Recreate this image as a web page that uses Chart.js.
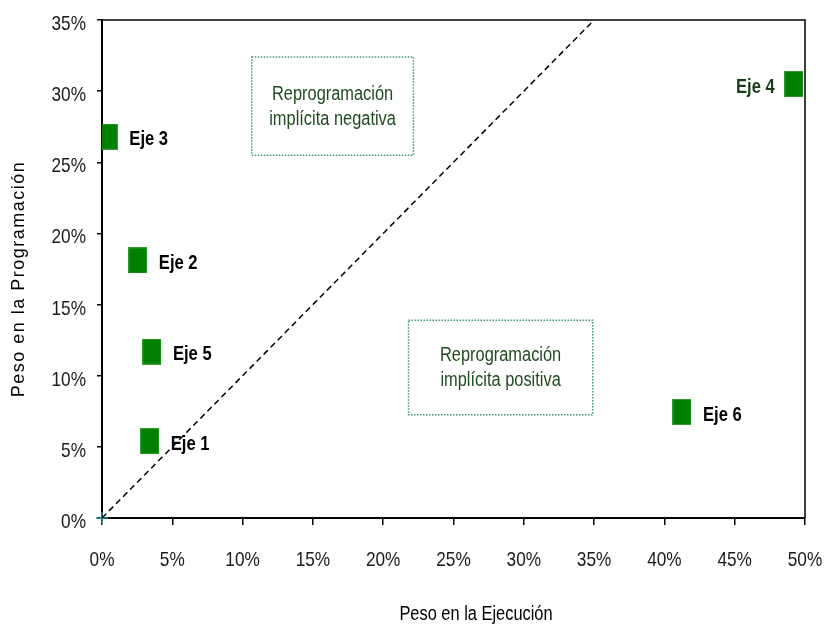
<!DOCTYPE html>
<html>
<head>
<meta charset="utf-8">
<script src="https://cdn.jsdelivr.net/npm/chart.js@4"></script>
<style>
  html, body { margin: 0; padding: 0; background: #fff; }
  canvas { display: block; }
</style>
</head>
<body>
<canvas id="chart" width="826" height="626"></canvas>
<script>
// Data
const ejeLabels = ['Eje 1', 'Eje 2', 'Eje 3', 'Eje 4', 'Eje 5', 'Eje 6'];
const ejecucion = [3.4, 2.55, 0.45, 49.2, 3.55, 41.25];     // x, %
const programacion = [5.4, 18.1, 26.8, 30.5, 11.7, 7.45];   // y, %
const xTicks = [0, 5, 10, 15, 20, 25, 30, 35, 40, 45, 50];
const yTicks = [0, 5, 10, 15, 20, 25, 30, 35];
const diagonal = [0, 35];
// annotation boxes in data units: [x0, x1, y0, y1]
const boxNegativa = [10.65, 22.15, 25.5, 32.4];
const boxPositiva = [21.8, 34.9, 7.25, 13.9];
const textNegativa = ['Reprogramación', 'implícita negativa'];
const textPositiva = ['Reprogramación', 'implícita positiva'];

const FONT = "'Liberation Sans', Arial, sans-serif";
const SQUEEZE = 0.82; // no Arial Narrow here, so squeeze Liberation Sans

// draws text horizontally squeezed, like Arial Narrow
function narrow(ctx, text, x, y, align, k) {
  ctx.save();
  ctx.translate(x, y);
  ctx.scale(k || SQUEEZE, 1);
  ctx.textAlign = align;
  ctx.fillText(text, 0, 0);
  ctx.restore();
}

// rectangular marker (taller than wide)
const marker = document.createElement('canvas');
marker.width = 19;
marker.height = 26;
const mctx = marker.getContext('2d');
mctx.fillStyle = '#2f9a2f';
mctx.fillRect(0, 0, 19, 26);
mctx.fillStyle = '#008000';
mctx.fillRect(1, 1, 17, 24);

const points = ejecucion.map((x, i) => ({ x: x, y: programacion[i] }));

const extras = {
  id: 'extras',
  afterDatasetsDraw(chart) {
    const { ctx, chartArea: a, scales: { x, y } } = chart;
    ctx.save();

    // frame top + right
    ctx.strokeStyle = '#000';
    ctx.lineWidth = 1.5;
    ctx.beginPath();
    ctx.moveTo(a.left, a.top);
    ctx.lineTo(a.right, a.top);
    ctx.lineTo(a.right, a.bottom);
    ctx.stroke();

    // tick labels
    ctx.fillStyle = '#1a1a1a';
    ctx.font = '21px ' + FONT;
    ctx.textBaseline = 'alphabetic';
    xTicks.forEach(v => narrow(ctx, v + '%', x.getPixelForValue(v), 566, 'center'));
    yTicks.forEach(v => narrow(ctx, v + '%', 86, y.getPixelForValue(v) + 10, 'right'));

    // dotted boxes with text
    [[boxNegativa, textNegativa], [boxPositiva, textPositiva]].forEach(([b, lines]) => {
      const x0 = x.getPixelForValue(b[0]), x1 = x.getPixelForValue(b[1]);
      const y0 = y.getPixelForValue(b[3]), y1 = y.getPixelForValue(b[2]);
      ctx.strokeStyle = '#3c9c6a';
      ctx.lineWidth = 1.5;
      ctx.setLineDash([1.5, 1.5]);
      ctx.strokeRect(x0, y0, x1 - x0, y1 - y0);
      ctx.setLineDash([]);
      ctx.fillStyle = '#1f4a1f';
      ctx.font = '20px ' + FONT;
      ctx.textBaseline = 'middle';
      const cx = (x0 + x1) / 2, cy = (y0 + y1) / 2;
      narrow(ctx, lines[0], cx, cy - 12, 'center');
      narrow(ctx, lines[1], cx, cy + 13, 'center');
    });

    // point labels
    const meta = chart.getDatasetMeta(0);
    ctx.font = 'bold 21px ' + FONT;
    ctx.textBaseline = 'middle';
    meta.data.forEach((pt, i) => {
      const rightEdge = ejecucion[i] > 45;
      ctx.fillStyle = rightEdge ? '#163d16' : '#000';
      narrow(ctx, ejeLabels[i], pt.x + (rightEdge ? -19 : 21), pt.y + 3, rightEdge ? 'right' : 'left', 0.79);
    });

    // axis titles
    ctx.fillStyle = '#000';
    ctx.font = '20px ' + FONT;
    narrow(ctx, 'Peso en la Ejecución', 476, 614, 'center');

    ctx.translate(19, 279);
    ctx.rotate(-Math.PI / 2);
    ctx.font = '18px ' + FONT;
    ctx.textAlign = 'center';
    ctx.letterSpacing = '1.5px';
    ctx.fillText('Peso en la Programación', 0, 0);
    ctx.restore();
  }
};

new Chart(document.getElementById('chart'), {
  type: 'scatter',
  data: {
    datasets: [
      {
        data: points,
        pointStyle: marker,
        pointRadius: 10,
        pointHoverRadius: 10
      },
      {
        type: 'line',
        data: diagonal.map(v => ({ x: v, y: v })),
        borderColor: '#000',
        borderWidth: 1.5,
        borderDash: [6, 4],
        pointRadius: 0,
        fill: false
      },
      {
        data: [{ x: 0, y: 0 }],
        pointStyle: 'cross',
        pointRadius: 6,
        borderColor: '#1a8a8a',
        borderWidth: 1.5,
        clip: false
      }
    ]
  },
  options: {
    responsive: false,
    animation: false,
    events: [],
    layout: { padding: { top: 20, right: 21, left: 0, bottom: 0 } },
    plugins: { legend: { display: false }, tooltip: { enabled: false } },
    scales: {
      x: {
        type: 'linear',
        min: xTicks[0],
        max: xTicks[xTicks.length - 1],
        afterBuildTicks: s => { s.ticks = xTicks.map(v => ({ value: v })); },
        afterFit: s => { s.height = 108; s.paddingLeft = 0; s.paddingRight = 0; },
        border: { display: true, color: '#000', width: 2 },
        grid: { display: true, drawOnChartArea: false, drawTicks: true, tickLength: 7, color: '#000', lineWidth: 1.5 },
        ticks: { display: false }
      },
      y: {
        type: 'linear',
        min: yTicks[0],
        max: yTicks[yTicks.length - 1],
        afterBuildTicks: s => { s.ticks = yTicks.map(v => ({ value: v })); },
        afterFit: s => { s.width = 102; s.paddingTop = 0; s.paddingBottom = 0; },
        border: { display: true, color: '#000', width: 2 },
        grid: { display: true, drawOnChartArea: false, drawTicks: true, tickLength: 5, color: '#000', lineWidth: 1.5 },
        ticks: { display: false }
      }
    }
  },
  plugins: [extras]
});
</script>
</body>
</html>
